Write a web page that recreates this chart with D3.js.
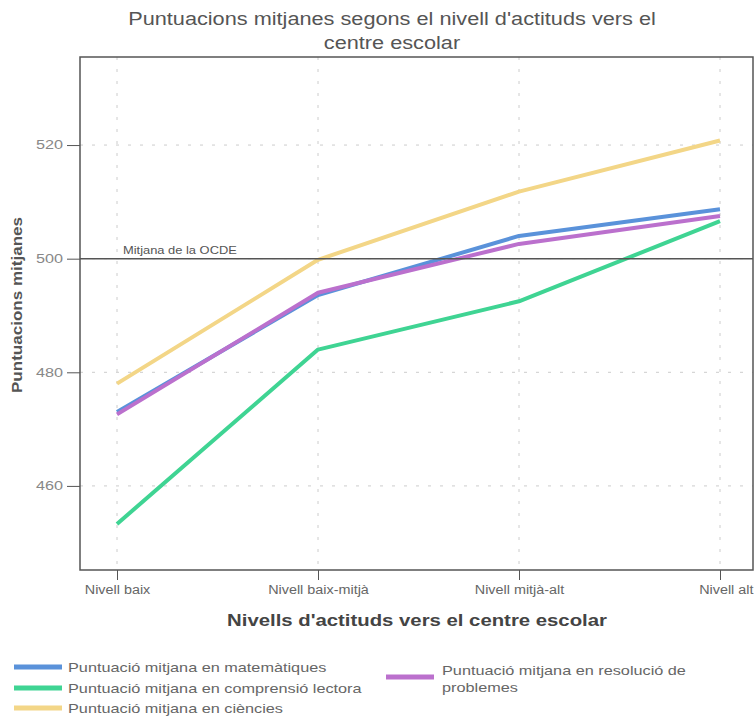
<!DOCTYPE html>
<html><head><meta charset="utf-8">
<script src="https://cdn.jsdelivr.net/npm/d3@7"></script>
<style>body{margin:0;background:#fff;font-family:"Liberation Sans",Arial,sans-serif;}</style>
</head><body><svg id="c" width="755" height="726"></svg>
<script>
const categories = ["Nivell baix","Nivell baix-mitjà","Nivell mitjà-alt","Nivell alt"];
const mathValues = [473, 493.6, 504, 508.7];
const readingValues = [453.3, 484, 492.5, 506.6];
const scienceValues = [478, 499.8, 511.8, 520.8];
const problemValues = [472.6, 494, 502.6, 507.5];
const yTicks = [460, 480, 500, 520];
const oecdMean = 500;
const seriesNames = ["Puntuació mitjana en matemàtiques","Puntuació mitjana en comprensió lectora","Puntuació mitjana en ciències","Puntuació mitjana en resolució de problemes"];
const seriesColors = ["#5a92da","#3fd493","#f3d687","#bb70cd"];

const FONT = "Liberation Sans, Arial, sans-serif";
const SX = 1.27;
function stretch(sel, k){
  sel.each(function(){
    const l = this.getComputedTextLength();
    d3.select(this).attr("textLength", l*k).attr("lengthAdjust","spacingAndGlyphs");
  });
}

const svg = d3.select("#c");
const L=80,R=753,T=57,B=570;
const y = d3.scaleLinear().domain([445.2,535.5]).range([B,T]);
const x = d3.scalePoint().domain(categories).range([117,720]);

// grid
svg.append("g").selectAll("line").data(yTicks).join("line")
 .attr("x1",L).attr("x2",R).attr("y1",d=>y(d)).attr("y2",d=>y(d))
 .attr("stroke","#ccc").attr("stroke-dasharray","3,9");
svg.append("g").selectAll("line").data(categories).join("line")
 .attr("x1",d=>x(d)).attr("x2",d=>x(d)).attr("y1",T).attr("y2",B)
 .attr("stroke","#ccc").attr("stroke-dasharray","3,9");

// frame
svg.append("rect").attr("x",L).attr("y",T).attr("width",R-L).attr("height",B-T)
 .attr("fill","none").attr("stroke","#555").attr("stroke-width",1.5);

// axes
const ya = svg.append("g").attr("transform",`translate(${L},0)`)
 .call(d3.axisLeft(y).tickValues(yTicks).tickSize(13).tickPadding(4));
ya.select(".domain").remove();
ya.selectAll("line").attr("stroke","#555");
ya.selectAll("text").attr("fill","#888").attr("font-size",12).attr("font-family",FONT);
stretch(ya.selectAll("text"), 1.35);
const xa = svg.append("g").attr("transform",`translate(0,${B})`)
 .call(d3.axisBottom(x).tickSize(10).tickPadding(5));
xa.select(".domain").remove();
xa.selectAll("line").attr("stroke","#555");
xa.selectAll("text").attr("fill","#666").attr("font-size",12.5).attr("font-family",FONT);
xa.selectAll("text").filter(d=>d==="Nivell alt").attr("text-anchor","end").attr("dx",33);
stretch(xa.selectAll("text"), 1.15);

// lines
const allSeries=[readingValues, scienceValues, mathValues, problemValues];
const colorIdx=[1,2,0,3];
const line = d3.line().x((d,i)=>x(categories[i])).y(d=>y(d));
allSeries.forEach((s,k)=>{
 svg.append("path").datum(s).attr("d",line).attr("fill","none")
  .attr("stroke",seriesColors[colorIdx[k]]).attr("stroke-width",4).attr("stroke-linejoin","round");
});

// OECD line
svg.append("line").attr("x1",L).attr("x2",R).attr("y1",y(oecdMean)).attr("y2",y(oecdMean))
 .attr("stroke","#555").attr("stroke-width",1.5);
const oecdLabel = svg.append("text").attr("x",123).attr("y",y(oecdMean)-5).text("Mitjana de la OCDE")
 .attr("font-size",11.5).attr("fill","#555");
stretch(oecdLabel, 1.12);

// titles
const t1 = svg.append("text").attr("x",392).attr("y",25).attr("text-anchor","middle").attr("font-size",17.5).attr("fill","#555")
 .text("Puntuacions mitjanes segons el nivell d'actituds vers el");
const t2 = svg.append("text").attr("x",392).attr("y",49).attr("text-anchor","middle").attr("font-size",17.5).attr("fill","#555")
 .text("centre escolar");
stretch(t1, 1.24); stretch(t2, 1.24);
const xt = svg.append("text").attr("x",417).attr("y",626).attr("text-anchor","middle").attr("font-size",16).attr("font-weight","bold").attr("fill","#444")
 .text("Nivells d'actituds vers el centre escolar");
stretch(xt, SX);
svg.append("text").attr("transform","translate(22,305) rotate(-90)").attr("text-anchor","middle").attr("font-size",15).attr("font-weight","bold").attr("fill","#555")
 .attr("textLength",176).attr("lengthAdjust","spacingAndGlyphs")
 .text("Puntuacions mitjanes");

// legend
const leg=[{i:0,x:14,y:667},{i:1,x:14,y:688},{i:2,x:14,y:708},{i:3,x:386,y:677}];
leg.forEach(o=>{
 svg.append("line").attr("x1",o.x).attr("x2",o.x+48).attr("y1",o.y).attr("y2",o.y).attr("stroke",seriesColors[o.i]).attr("stroke-width",5);
});
const legTexts = [];
[0,1,2].forEach(i=>{
 legTexts.push(svg.append("text").attr("x",68).attr("y",leg[i].y+5).attr("font-size",13).attr("fill","#666").text(seriesNames[i]));
});
legTexts.push(svg.append("text").attr("x",442).attr("y",675).attr("font-size",13).attr("fill","#666").text("Puntuació mitjana en resolució de"));
legTexts.push(svg.append("text").attr("x",442).attr("y",692).attr("font-size",13).attr("fill","#666").text("problemes"));
legTexts.forEach(t=>stretch(t, 1.25));
</script></body></html>
